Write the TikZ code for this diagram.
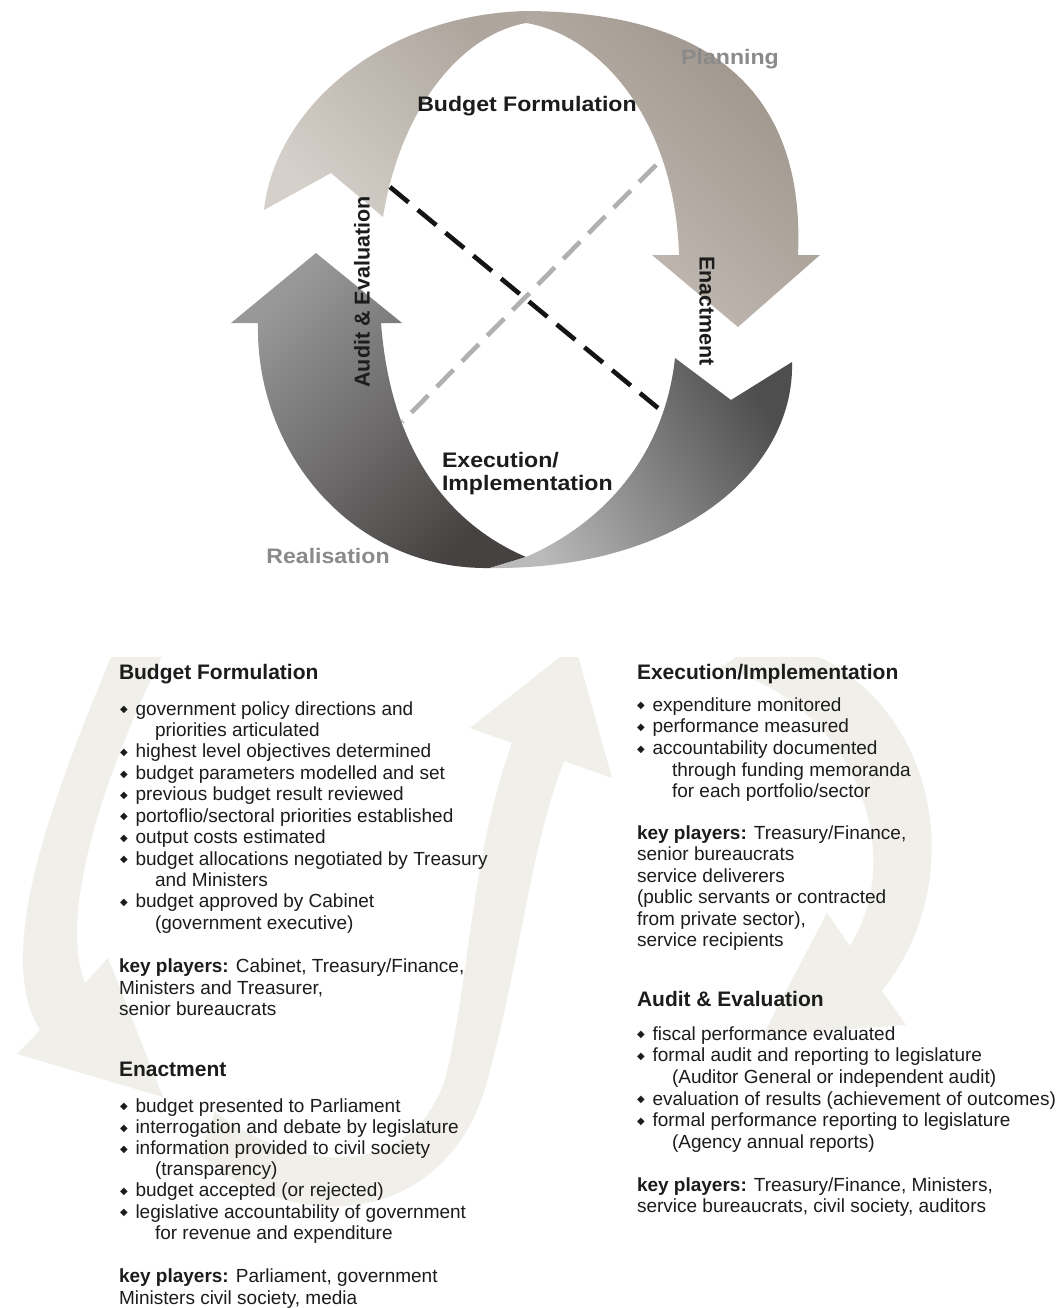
\documentclass[tikz,border=0pt]{standalone}
\usepackage{fontspec}
\setmainfont{Liberation Sans}
\newfontfamily\lblfont[FakeStretch=1.1]{Liberation Sans}
\newfontfamily\symfont{DejaVu Sans}
\definecolor{tlA}{RGB}{213,208,202}
\definecolor{tlB}{RGB}{174,166,157}
\definecolor{trA}{RGB}{200,193,186}
\definecolor{trB}{RGB}{156,147,137}
\definecolor{blA}{RGB}{152,152,152}
\definecolor{blB}{RGB}{70,66,66}
\definecolor{brA}{RGB}{186,186,186}
\definecolor{brB}{RGB}{78,78,78}
\definecolor{bgarrow}{RGB}{241,239,233}
\definecolor{lblgrey}{RGB}{138,138,138}
\definecolor{txt}{RGB}{28,28,28}
\definecolor{dashgrey}{RGB}{176,176,176}
\newcommand\bul{\makebox[15.5pt][l]{\raisebox{2.2pt}{\symfont\fontsize{10}{10}\selectfont ◆}}}
\tikzset{
  bodytxt/.style={anchor=base west, inner sep=0pt, outer sep=0pt, text=txt, font=\fontsize{19}{21}\selectfont},
  headtxt/.style={anchor=base west, inner sep=0pt, outer sep=0pt, text=txt, font=\fontsize{21}{24}\selectfont\bfseries},
  lbl/.style={inner sep=0pt, outer sep=0pt, text=txt, font=\lblfont\fontsize{21}{24}\selectfont\bfseries},
  rotlbl/.style={inner sep=0pt, outer sep=0pt, text=txt, font=\fontsize{21.5}{24}\selectfont\bfseries},
  bgarr/.style={fill=bgarrow, draw=none},
  dashblack/.style={draw=black!92, line width=4.6pt, dash pattern=on 24pt off 12pt},
  dashgreyline/.style={draw=dashgrey, line width=4.6pt, dash pattern=on 24pt off 12pt},
}
\begin{document}
\begin{tikzpicture}[x=1pt,y=-1pt]
\useasboundingbox (0,0) rectangle (1061,1308);
\fill[white] (0,0) rectangle (1061,1308);

% ---------- faint background arrows ----------
\begin{scope}
\clip (0,657) rectangle (1061,1308);
\fill[bgarr] (118,640) .. controls (60,780) and (-10,950) .. (40,1030) -- (17,1054) -- (163,1097) -- (108,958) -- (85,983) .. controls (60,920) and (95,790) .. (170,640) -- cycle;
\fill[bgarr] (215,1112) .. controls (300,1175) and (410,1180) .. (445,1080) .. controls (470,980) and (470,860) .. (512,743) -- (470,728) -- (575,645) -- (612,778) -- (564,761) .. controls (530,850) and (520,960) .. (490,1070) .. controls (455,1225) and (300,1240) .. (200,1155) -- cycle;
\fill[bgarr] (760,640) .. controls (920,660) and (985,860) .. (882,991) -- (906,1025) -- (763,1035) -- (827,913) -- (850,946) .. controls (910,850) and (850,700) .. (720,668) -- cycle;
\end{scope}

% ---------- cycle diagram ----------
\shade[top color=tlB, bottom color=tlA, shading angle=-45]
  (264,210) .. controls (275,110) and (380,15) .. (526,11) -- (526,23) .. controls (460,35) and (400,110) .. (383,217) -- (331,173) -- cycle;
\shade[top color=trB, bottom color=trA, shading angle=-45]
  (526,11) .. controls (720,12) and (805,100) .. (798,255) -- (820,255) -- (738,327) -- (652,255) -- (679,255) .. controls (675,120) and (600,35) .. (526,23) -- cycle;
\shade[top color=blA, bottom color=blB, shading angle=45]
  (316,253) -- (402,323) -- (381,323) .. controls (390,440) and (440,520) .. (526,557) -- (490,568) .. controls (350,570) and (255,450) .. (258,323) -- (231,323) -- cycle;
\shade[top color=brB, bottom color=brA, shading angle=-60]
  (526,557) .. controls (610,520) and (665,450) .. (675,358) -- (731,400) -- (792,362) .. controls (795,470) and (680,570) .. (490,568) -- cycle;

\coordinate (bk1) at (390,187);
\coordinate (bk2) at (658,408);
\coordinate (gr1) at (656,165);
\coordinate (gr2) at (402,422);
\draw[dashgreyline] (gr1) -- (gr2);
\draw[dashblack] (bk1) -- (bk2);

\node[lbl, text=lblgrey, anchor=base] (planning) at (730,65) {Planning};
\node[lbl, anchor=base] (bftop) at (527,112) {Budget Formulation};
\node[lbl, anchor=base west] (ex1) at (442,467) {Execution/};
\node[lbl, anchor=base west] (ex2) at (442,490) {Implementation};
\node[lbl, text=lblgrey, anchor=base] (realis) at (328,563) {Realisation};
\node[rotlbl, rotate=90] (audittop) at (362,292) {Audit \& Evaluation};
\node[rotlbl, rotate=-90] (enacttop) at (707,311) {Enactment};

% ---------- left column ----------
\node[headtxt] (lh1) at (119,679.3) {Budget Formulation};
\node[bodytxt] (l1) at (120,715) {\bul government policy directions and};
\node[bodytxt] (l2) at (155,736.4) {priorities articulated};
\node[bodytxt] (l3) at (120,757.9) {\bul highest level objectives determined};
\node[bodytxt] (l4) at (120,779.3) {\bul budget parameters modelled and set};
\node[bodytxt] (l5) at (120,800.7) {\bul previous budget result reviewed};
\node[bodytxt] (l6) at (120,822.1) {\bul portoflio/sectoral priorities established};
\node[bodytxt] (l7) at (120,843.6) {\bul output costs estimated};
\node[bodytxt] (l8) at (120,865) {\bul budget allocations negotiated by Treasury};
\node[bodytxt] (l9) at (155,886.4) {and Ministers};
\node[bodytxt] (l10) at (120,907.9) {\bul budget approved by Cabinet};
\node[bodytxt] (l11) at (155,929.3) {(government executive)};
\node[bodytxt] (l12) at (119,972.7) {\textbf{key players:} Cabinet, Treasury/Finance,};
\node[bodytxt] (l13) at (119,994) {Ministers and Treasurer,};
\node[bodytxt] (l14) at (119,1015.3) {senior bureaucrats};

\node[headtxt] (lh2) at (119,1076.7) {Enactment};
\node[bodytxt] (l15) at (120,1112) {\bul budget presented to Parliament};
\node[bodytxt] (l16) at (120,1133.2) {\bul interrogation and debate by legislature};
\node[bodytxt] (l17) at (120,1154.4) {\bul information provided to civil society};
\node[bodytxt] (l18) at (155,1175.6) {(transparency)};
\node[bodytxt] (l19) at (120,1196.8) {\bul budget accepted (or rejected)};
\node[bodytxt] (l20) at (120,1218) {\bul legislative accountability of government};
\node[bodytxt] (l21) at (155,1239.2) {for revenue and expenditure};
\node[bodytxt] (l22) at (119,1282.7) {\textbf{key players:} Parliament, government};
\node[bodytxt] (l23) at (119,1304) {Ministers civil society, media};

% ---------- right column ----------
\node[headtxt] (rh1) at (637,679.3) {Execution/Implementation};
\node[bodytxt] (r1) at (637,711) {\bul expenditure monitored};
\node[bodytxt] (r2) at (637,732.7) {\bul performance measured};
\node[bodytxt] (r3) at (637,754.4) {\bul accountability documented};
\node[bodytxt] (r4) at (672,776) {through funding memoranda};
\node[bodytxt] (r5) at (672,797.7) {for each portfolio/sector};
\node[bodytxt] (r6) at (637,839.3) {\textbf{key players:} Treasury/Finance,};
\node[bodytxt] (r7) at (637,860.8) {senior bureaucrats};
\node[bodytxt] (r8) at (637,882.3) {service deliverers};
\node[bodytxt] (r9) at (637,903.8) {(public servants or contracted};
\node[bodytxt] (r10) at (637,925.3) {from private sector),};
\node[bodytxt] (r11) at (637,946.8) {service recipients};

\node[headtxt] (rh2) at (637,1006) {Audit \& Evaluation};
\node[bodytxt] (r12) at (637,1040) {\bul fiscal performance evaluated};
\node[bodytxt] (r13) at (637,1061.7) {\bul formal audit and reporting to legislature};
\node[bodytxt] (r14) at (672,1083.3) {(Auditor General or independent audit)};
\node[bodytxt] (r15) at (637,1105) {\bul evaluation of results (achievement of outcomes)};
\node[bodytxt] (r16) at (637,1126.7) {\bul formal performance reporting to legislature};
\node[bodytxt] (r17) at (672,1148.3) {(Agency annual reports)};
\node[bodytxt] (r18) at (637,1191) {\textbf{key players:} Treasury/Finance, Ministers,};
\node[bodytxt] (r19) at (637,1212.3) {service bureaucrats, civil society, auditors};
\end{tikzpicture}
\end{document}
